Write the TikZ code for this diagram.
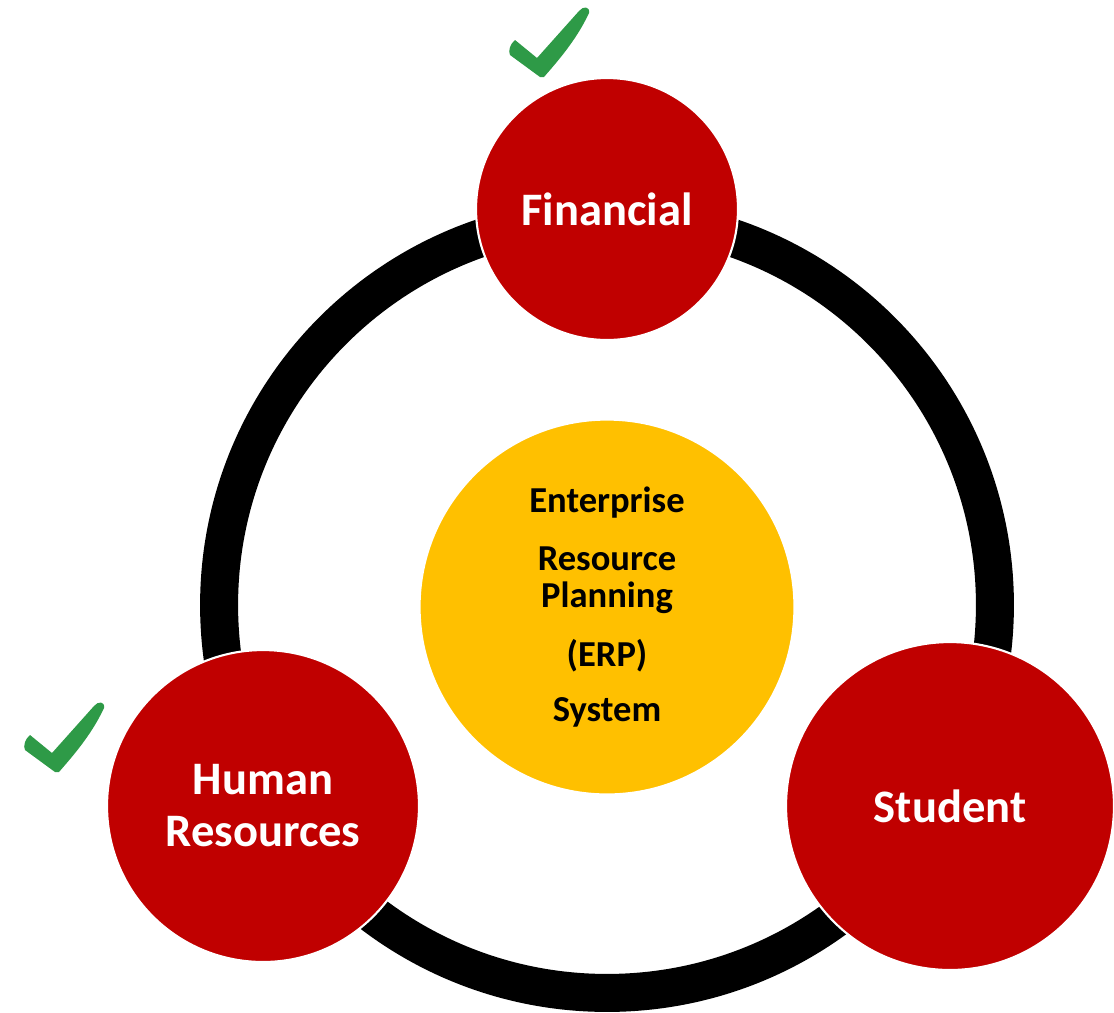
\documentclass[tikz,border=0pt]{standalone}
\usepackage{fontspec}
\setmainfont{Carlito}
\usetikzlibrary{positioning,calc}
\definecolor{erpred}{HTML}{C00000}
\definecolor{erpgold}{HTML}{FFC000}
\definecolor{donegreen}{HTML}{2E9A47}
\tikzset{every picture/.style={line width=0.75pt}}
\tikzset{
  module/.style={circle, fill=erpred, draw=white, line width=1.2pt, text=white,
    font=\bfseries\fontsize{26.5}{29.6}\selectfont, align=center, inner sep=0pt},
  core/.style={circle, fill=erpgold, draw=white, line width=1.2pt, text=black,
    font=\bfseries\fontsize{20.8}{21.6}\selectfont, align=center, inner sep=0pt,
    minimum size=7.5cm},
  donetick/.pic={
    \fill[donegreen] (0,0) -- (-30,-22) .. controls (-32,-26) and (-30,-33) .. (-25,-37)
      -- (-3,-19) -- (39,-66) .. controls (43,-71) and (50,-71) .. (49,-64)
      .. controls (36,-36) and (16,-14) .. (4,0) -- cycle;
  }
}

\begin{document}
\begin{tikzpicture}[x=0.02cm, y=-0.02cm]
    \useasboundingbox (0,0) rectangle (1114,1012);

    % ring that links the modules
    \coordinate (hub) at (607,605);
    \draw[line width=0.76cm] (hub) circle[radius=7.76cm];

    % ERP core
    \node[core] (erp) at (607,607) {Enterprise\\[0.4cm] Resource\\ Planning\\[0.42cm] (ERP)\\[0.34cm] System};

    % modules on the ring
    \node[module, minimum size=5.24cm] (fin) at (607,209) {Financial};
    \node[module, minimum size=6.24cm] (hr) at (263,806) {Human\\ Resources};
    \node[module, minimum size=6.56cm] (stud) at (950,806) {Student};

    % done ticks
    \pic at (540,77) {donetick};
    \pic at (55,772) {donetick};
\end{tikzpicture}
\end{document}
